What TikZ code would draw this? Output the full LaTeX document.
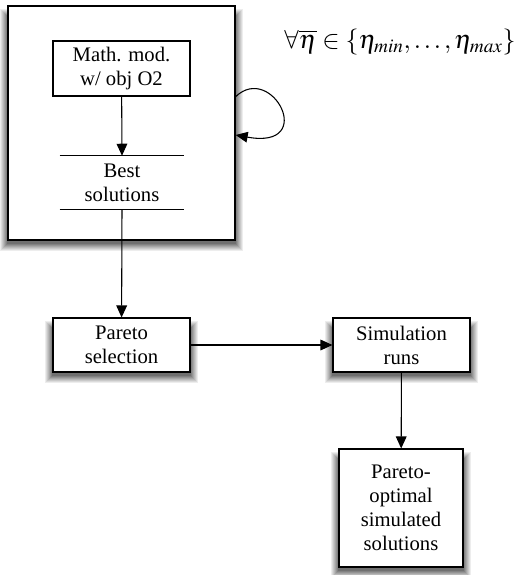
\documentclass[tikz,border=0pt]{standalone}
\usepackage{mathptmx}
\usepackage{fontspec}
\setmainfont{Liberation Serif}
\usetikzlibrary{arrows.meta,backgrounds}
% soft shadow under a named box, built from stacked grey layers
\newcommand\boxshadow[1]{%
  \foreach \i [evaluate=\i as \grow using (8-\i)*0.75, evaluate=\i as \tone using int(7*\i)] in {1,...,8}
    \fill[black!\tone] ([xshift=-\grow pt,yshift=-8pt+\grow pt]#1.north west)
      rectangle ([xshift=\grow pt,yshift=-2.25pt-\grow pt]#1.south east);}
\begin{document}
\begin{tikzpicture}[x=0.75pt,y=-0.75pt,>={Triangle[length=9pt,width=8pt]}]
        % Styles
        \tikzstyle{box}=[draw,line width=0.8pt,fill=white,align=center,
            font=\fontsize{15.5}{18}\selectfont,inner sep=2pt]
        \tikzstyle{store}=[align=center,font=\fontsize{15.5}{18}\selectfont,inner sep=0pt]
        \tikzstyle{flow}=[->,line width=0.8pt]
        %The graphic
        \useasboundingbox (0,0) rectangle (522,575);
        %outer frame
        \node[box,line width=1pt,minimum width=170.25pt,minimum height=175.5pt] (frame) at (121.5,123) {};
        %nodes
        \node[box,minimum width=102.75pt,minimum height=41.25pt] (math) at (121.5,68.5) {Math. mod.\\ w/ obj O2};
        \node[store,minimum width=93pt,minimum height=39.75pt] (best) at (122,182.5) {Best\\ solutions};
        \draw[line width=0.8pt] (best.north west) -- (best.north east);
        \draw[line width=0.8pt] (best.south west) -- (best.south east);
        \node[box,minimum width=102.75pt,minimum height=40.5pt] (pareto) at (121.5,345) {Pareto\\ selection};
        \node[box,minimum width=102.75pt,minimum height=40.5pt] (sim) at (401.5,345) {Simulation\\ runs};
        \node[box,minimum width=93pt,minimum height=88.5pt] (final) at (401,508) {Pareto-\\ optimal\\ simulated\\ solutions};
        \node[font=\fontsize{19.5}{23}\selectfont] (range) at (400,42) {$\forall\overline{\eta}\in\{\eta_{min},\ldots,\eta_{max}\}$};
        %shadows
        \begin{scope}[on background layer]
            \foreach \n in {frame,pareto,sim,final} \boxshadow{\n};
        \end{scope}
        %connectors
        \draw[flow] (math) -- (best.north);
        \draw[flow] (best.south) -- (pareto);
        \draw[flow] (pareto) -- (sim);
        \draw[flow] (sim) -- (final);
        \draw[flow] (frame.13) .. controls (272,62) and (318,150) .. (frame.-6);
    \end{tikzpicture}
\end{document}
